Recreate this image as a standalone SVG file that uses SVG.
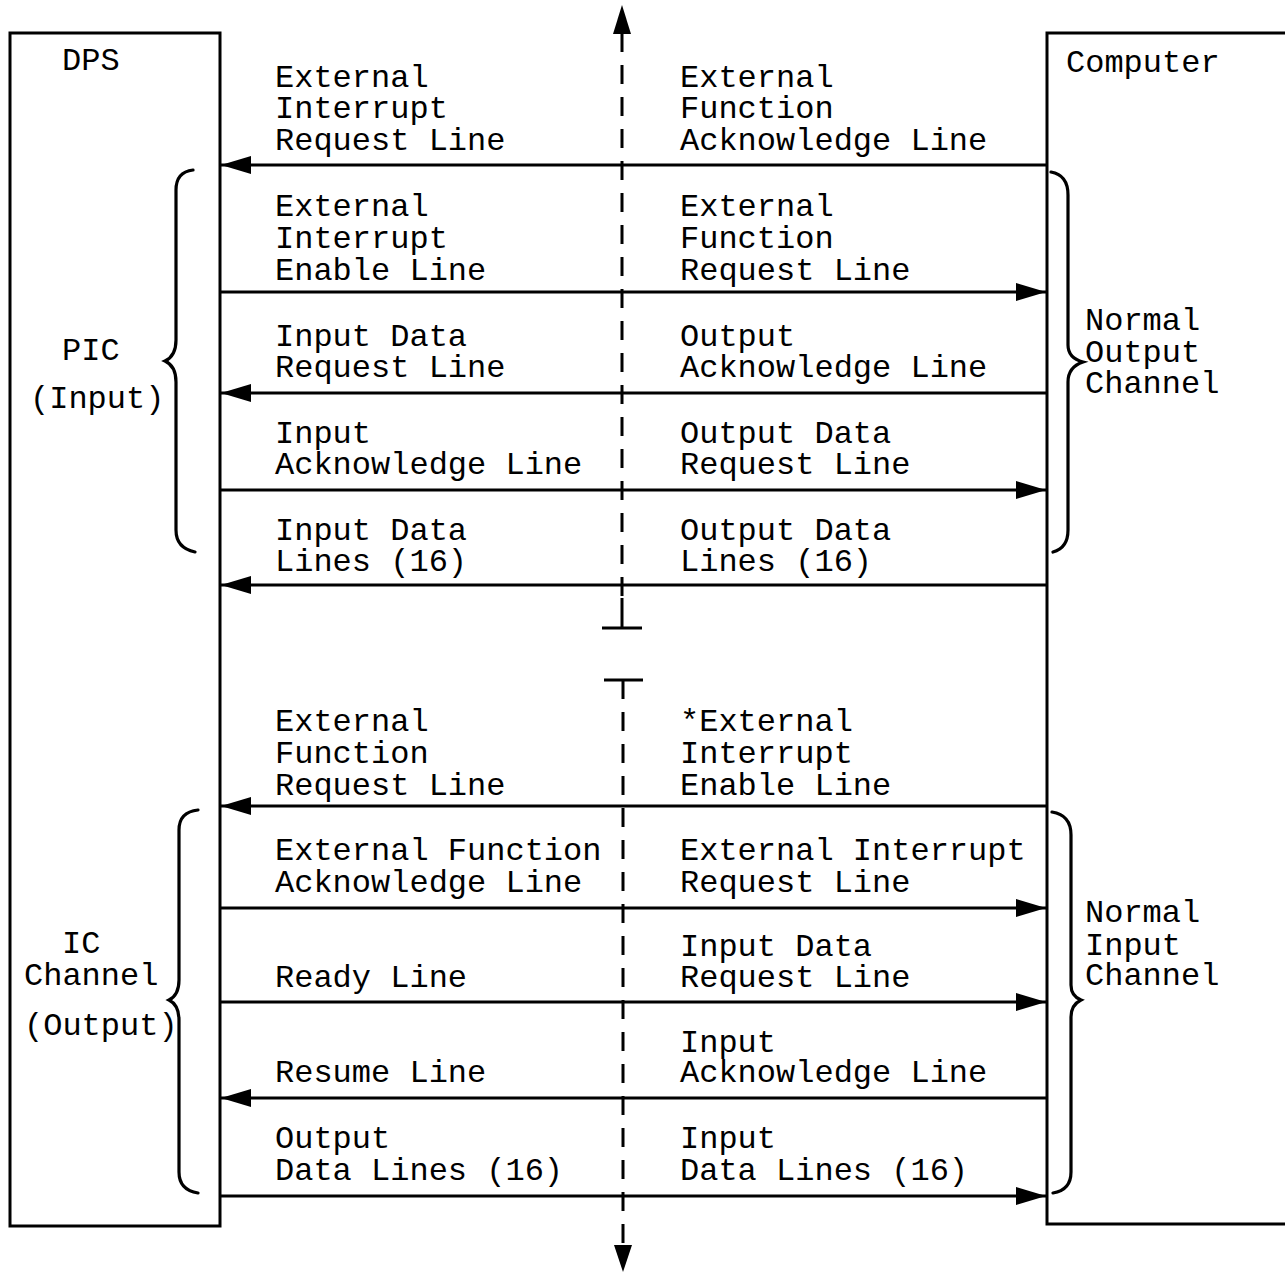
<svg xmlns="http://www.w3.org/2000/svg" width="1285" height="1274" viewBox="0 0 1285 1274">
  <style>
    .box { fill: none; stroke: #000; stroke-width: 3; }
    .wire { stroke: #000; stroke-width: 3; fill: none; }
    .brace { stroke: #000; stroke-width: 3.2; fill: none; stroke-linecap: round; }
    .axis { stroke: #000; stroke-width: 3; fill: none; }
    .dash { stroke-dasharray: 19 13; }
    text { font-family: "Liberation Mono", "DejaVu Sans Mono", monospace; font-size: 32px; fill: #000; }
  </style>
  <defs>
    <marker id="head" markerWidth="32" markerHeight="20" refX="30" refY="10" orient="auto" markerUnits="userSpaceOnUse">
      <path d="M0,1 L30,10 L0,19 Z" fill="#000"/>
    </marker>
  </defs>
  <rect width="1285" height="1274" fill="#fff"/>

  <!-- end units -->
  <g id="dps">
    <rect class="box" x="10" y="33" width="210" height="1193"/>
    <text x="62" y="70">DPS</text>
  </g>
  <g id="computer">
    <path class="box" d="M1290,33 H1047 V1224 H1290"/>
    <text x="1066" y="72">Computer</text>
  </g>

  <!-- channel groupings -->
  <g id="pic">
    <path class="brace" d="M193,170 Q176,172 176,190 V340 Q176,356 165,361 Q176,366 176,382 V530 Q176,548 195,552"/>
    <text x="62" y="360">PIC</text>
    <text x="30" y="408">(Input)</text>
  </g>
  <g id="ic">
    <path class="brace" d="M198,810 Q179,812 179,830 V980 Q179,995 169,1000 Q179,1005 179,1020 V1172 Q179,1190 198,1193"/>
    <text x="62" y="953">IC</text>
    <text x="24" y="985">Channel</text>
    <text x="24" y="1035">(Output)</text>
  </g>
  <g id="normal-output">
    <path class="brace" d="M1051,172 Q1068,175 1068,195 V345 Q1068,358 1083,362 Q1068,367 1068,382 V530 Q1068,548 1053,552"/>
    <text x="1085" y="330">Normal</text>
    <text x="1085" y="362">Output</text>
    <text x="1085" y="393">Channel</text>
  </g>
  <g id="normal-input">
    <path class="brace" d="M1052,812 Q1071,815 1071,835 V985 Q1071,996 1081,1000 Q1071,1005 1071,1017 V1172 Q1071,1190 1053,1193"/>
    <text x="1085" y="922">Normal</text>
    <text x="1085" y="955">Input</text>
    <text x="1085" y="985">Channel</text>
  </g>

  <!-- interface lines -->
  <g id="connectors">
    <line class="wire" x1="1047" y1="165" x2="221" y2="165" marker-end="url(#head)"/>
    <line class="wire" x1="220" y1="292" x2="1046" y2="292" marker-end="url(#head)"/>
    <line class="wire" x1="1047" y1="393" x2="221" y2="393" marker-end="url(#head)"/>
    <line class="wire" x1="220" y1="490" x2="1046" y2="490" marker-end="url(#head)"/>
    <line class="wire" x1="1047" y1="585" x2="221" y2="585" marker-end="url(#head)"/>
    <line class="wire" x1="1047" y1="806" x2="221" y2="806" marker-end="url(#head)"/>
    <line class="wire" x1="220" y1="908" x2="1046" y2="908" marker-end="url(#head)"/>
    <line class="wire" x1="220" y1="1002" x2="1046" y2="1002" marker-end="url(#head)"/>
    <line class="wire" x1="1047" y1="1098" x2="221" y2="1098" marker-end="url(#head)"/>
    <line class="wire" x1="220" y1="1196" x2="1046" y2="1196" marker-end="url(#head)"/>
  </g>

  <!-- dividing axis -->
  <g id="axis">
    <path d="M613,34 L622,5 L631,34 Z" fill="#000"/>
    <line class="axis dash" x1="622" y1="33" x2="622" y2="596"/>
    <line class="axis" x1="622" y1="598" x2="622" y2="628"/>
    <line class="axis" x1="602" y1="628" x2="642" y2="628"/>
    <line class="axis" x1="604" y1="680" x2="643" y2="680"/>
    <line class="axis dash" x1="623" y1="680" x2="623" y2="1248"/>
    <path d="M614,1245 L623,1272 L632,1245 Z" fill="#000"/>
  </g>

  <!-- line names -->
  <g id="labels-upper">
    <text x="275" y="87">External</text>
    <text x="275" y="118">Interrupt</text>
    <text x="275" y="150">Request Line</text>
    <text x="680" y="87">External</text>
    <text x="680" y="118">Function</text>
    <text x="680" y="150">Acknowledge Line</text>

    <text x="275" y="216">External</text>
    <text x="275" y="248">Interrupt</text>
    <text x="275" y="280">Enable Line</text>
    <text x="680" y="216">External</text>
    <text x="680" y="248">Function</text>
    <text x="680" y="280">Request Line</text>

    <text x="275" y="346">Input Data</text>
    <text x="275" y="377">Request Line</text>
    <text x="680" y="346">Output</text>
    <text x="680" y="377">Acknowledge Line</text>

    <text x="275" y="443">Input</text>
    <text x="275" y="474">Acknowledge Line</text>
    <text x="680" y="443">Output Data</text>
    <text x="680" y="474">Request Line</text>

    <text x="275" y="540">Input Data</text>
    <text x="275" y="571">Lines (16)</text>
    <text x="680" y="540">Output Data</text>
    <text x="680" y="571">Lines (16)</text>
  </g>
  <g id="labels-lower">
    <text x="275" y="731">External</text>
    <text x="275" y="763">Function</text>
    <text x="275" y="795">Request Line</text>
    <text x="680" y="731">*External</text>
    <text x="680" y="763">Interrupt</text>
    <text x="680" y="795">Enable Line</text>

    <text x="275" y="860">External Function</text>
    <text x="275" y="892">Acknowledge Line</text>
    <text x="680" y="860">External Interrupt</text>
    <text x="680" y="892">Request Line</text>

    <text x="275" y="987">Ready Line</text>
    <text x="680" y="956">Input Data</text>
    <text x="680" y="987">Request Line</text>

    <text x="275" y="1082">Resume Line</text>
    <text x="680" y="1052">Input</text>
    <text x="680" y="1082">Acknowledge Line</text>

    <text x="275" y="1148">Output</text>
    <text x="275" y="1180">Data Lines (16)</text>
    <text x="680" y="1148">Input</text>
    <text x="680" y="1180">Data Lines (16)</text>
  </g>
</svg>
